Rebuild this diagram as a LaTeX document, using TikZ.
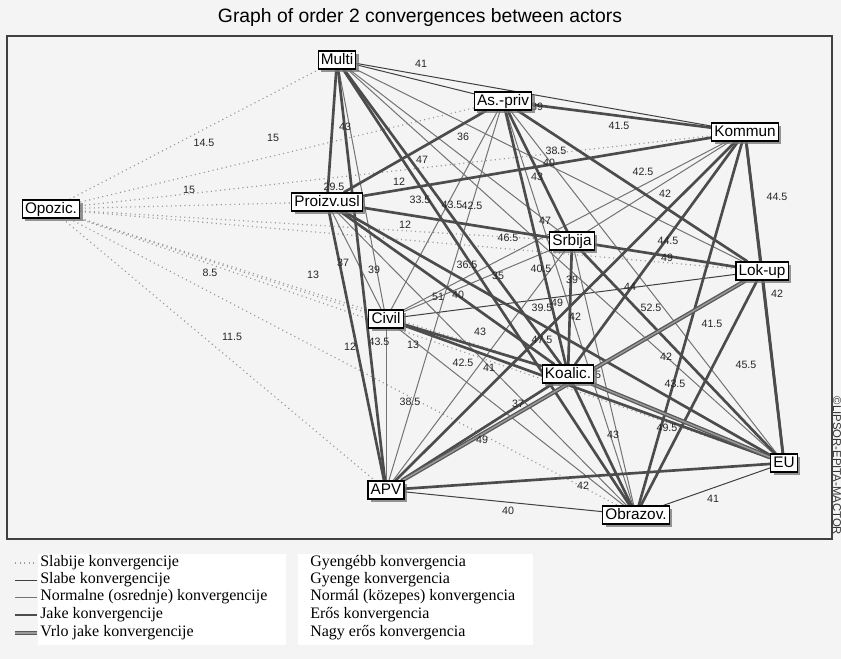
\documentclass[tikz,border=0pt]{standalone}
\usepackage{fontspec}
\setmainfont{Liberation Serif}
\newfontfamily\sansf{Liberation Sans}
\usetikzlibrary{shadows}

\definecolor{bggray}{RGB}{244,244,244}
\definecolor{framegray}{RGB}{64,64,64}

\pgfdeclarelayer{back}
\pgfdeclarelayer{edges}
\pgfsetlayers{back,edges,main}

\tikzset{
  actbox/.style={draw=black, line width=0.9pt, fill=white, inner xsep=2pt, inner ysep=1.3pt,
    text height=8.6pt, text depth=2.4pt, font=\sansf\fontsize{11.5}{12}\selectfont,
    drop shadow={shadow xshift=2.2pt, shadow yshift=-2.2pt, fill=black!55, opacity=0.75}},
  numlab/.style={inner sep=0pt, text=black!85, font=\sansf\fontsize{8}{9}\selectfont},
  weakest/.style={draw=black!40, line width=0.9pt, dash pattern=on 0.8pt off 2.6pt},
  weak/.style={draw=black!75, line width=0.75pt},
  normal/.style={draw=black!55, line width=0.75pt},
  strong/.style={draw=black!70, line width=2pt},
  vstrong/.style={draw=black!65, double=black!40, double distance=1.1pt, line width=1pt},
  legtext/.style={anchor=west, inner sep=0pt, font=\fontsize{12}{13}\selectfont}
}

\begin{document}
\begin{tikzpicture}[x=0.75pt,y=-0.75pt]
  \useasboundingbox (0,0) rectangle (841,659);

  % background, frame and legend panels
  \begin{pgfonlayer}{back}
    \fill[bggray] (0,0) rectangle (841,659);
    \draw[framegray, line width=1.5pt] (7,36) rectangle (832,539);
    \fill[white] (38,554) rectangle (286,645);
    \fill[white] (298,554) rectangle (533,645);
  \end{pgfonlayer}

  \node[font=\sansf\fontsize{14.5}{16}\selectfont] (title) at (420,18)
    {Graph of order 2 convergences between actors};
  \node[rotate=-90, font=\sansf\fontsize{8.5}{9}\selectfont, text=black!80] (copy) at (837,466)
    {©LIPSOR-EPITA-MACTOR};

  % actors
  \node[actbox] (multi)   at (337,60)  {Multi};
  \node[actbox] (aspriv)  at (503,101) {As.-priv};
  \node[actbox] (kommun)  at (745,132) {Kommun};
  \node[actbox] (opozic)  at (51,209)  {Opozic.};
  \node[actbox] (proizv)  at (327,202) {Proizv.usl};
  \node[actbox] (srbija)  at (572,241) {Srbija};
  \node[actbox] (lokup)   at (762,271) {Lok-up};
  \node[actbox] (civil)   at (386,319) {Civil};
  \node[actbox] (koalic)  at (568,374) {Koalic.};
  \node[actbox] (eu)      at (784,463) {EU};
  \node[actbox] (apv)     at (386,490) {APV};
  \node[actbox] (obrazov) at (636,515) {Obrazov.};

  \begin{pgfonlayer}{edges}
    % weakest convergences (Opozic. to everybody)
    \foreach \b in {multi,aspriv,kommun,proizv,srbija,lokup,civil,koalic,eu,apv,obrazov}
      \draw[weakest] (opozic) -- (\b);
    % weak
    \foreach \a/\b in {multi/kommun, multi/aspriv, apv/obrazov, eu/obrazov, civil/lokup}
      \draw[weak] (\a) -- (\b);
    % normal
    \foreach \a/\b in {multi/civil, multi/srbija, multi/lokup, multi/eu, aspriv/eu,
        aspriv/obrazov, aspriv/civil, aspriv/apv, kommun/civil, kommun/srbija,
        proizv/civil, proizv/obrazov, proizv/lokup, srbija/obrazov, srbija/apv,
        srbija/civil, civil/apv, civil/obrazov}
      \draw[normal] (\a) -- (\b);
    % strong
    \foreach \a/\b in {multi/proizv, multi/apv, multi/koalic, multi/obrazov,
        aspriv/kommun, aspriv/proizv, aspriv/srbija, aspriv/koalic, aspriv/lokup,
        kommun/proizv, kommun/lokup, kommun/eu, kommun/obrazov, kommun/apv,
        kommun/koalic, proizv/srbija, proizv/apv, proizv/koalic, proizv/eu,
        srbija/lokup, srbija/koalic, srbija/eu, lokup/eu, lokup/obrazov,
        civil/koalic, civil/eu, koalic/apv, koalic/obrazov, eu/apv}
      \draw[strong] (\a) -- (\b);
    % very strong
    \foreach \a/\b in {lokup/apv, koalic/eu}
      \draw[vstrong] (\a) -- (\b);

    % values on the links
    \foreach \px/\py/\val in {204/143/14.5, 273/138/15, 189/190/15, 345/127/43,
        334/187/29.5, 399/182/12, 420/200/33.5, 405/225/12, 210/273/8.5, 313/275/13,
        343/263/37, 374/270/39, 421/64/41, 463/137/36, 422/160/47, 452/205/43.5,
        472/206/42.5, 537/177/43, 556/151/38.5, 549/163/40, 537/107/39, 619/126/41.5,
        643/172/42.5, 665/194/42, 777/197/44.5, 545/221/47, 508/238/46.5,
        668/241/44.5, 667/258/49, 467/265/36.5, 498/276/35, 541/269/40.5,
        572/280/39, 438/297/51, 458/295/40, 542/308/39.5, 557/303/49, 575/317/42,
        480/332/43, 542/340/47.5, 379/342/43.5, 413/345/13, 350/347/12, 630/287/44,
        651/308/52.5, 712/324/41.5, 777/294/42, 666/357/42, 746/365/45.5,
        675/384/43.5, 667/428/49.5, 613/435/43, 518/404/37, 482/440/49, 583/486/42,
        508/511/40, 713/499/41, 489/368/41, 463/363/42.5, 595/375/45, 410/402/38.5,
        232/337/11.5}
      \node[numlab] at (\px,\py) {\val};
  \end{pgfonlayer}

  % legend
  \coordinate (l1) at (15,563);
  \coordinate (l2) at (15,580);
  \coordinate (l3) at (15,597);
  \coordinate (l4) at (15,615);
  \coordinate (l5) at (15,633);
  \draw[weakest] (l1) -- ++(22,0);
  \draw[weak] (l2) -- ++(22,0);
  \draw[normal] (l3) -- ++(22,0);
  \draw[strong] (l4) -- ++(22,0);
  \draw[vstrong] (l5) -- ++(22,0);
  \node[legtext] (s1) at (40,563) {Slabije konvergencije};
  \node[legtext] (s2) at (40,580) {Slabe konvergencije};
  \node[legtext] (s3) at (40,597) {Normalne (osrednje) konvergencije};
  \node[legtext] (s4) at (40,615) {Jake konvergencije};
  \node[legtext] (s5) at (40,633) {Vrlo jake konvergencije};
  \node[legtext] (h1) at (310,563) {Gyengébb konvergencia};
  \node[legtext] (h2) at (310,580) {Gyenge konvergencia};
  \node[legtext] (h3) at (310,597) {Normál (közepes) konvergencia};
  \node[legtext] (h4) at (310,615) {Erős konvergencia};
  \node[legtext] (h5) at (310,633) {Nagy erős konvergencia};
\end{tikzpicture}
\end{document}
